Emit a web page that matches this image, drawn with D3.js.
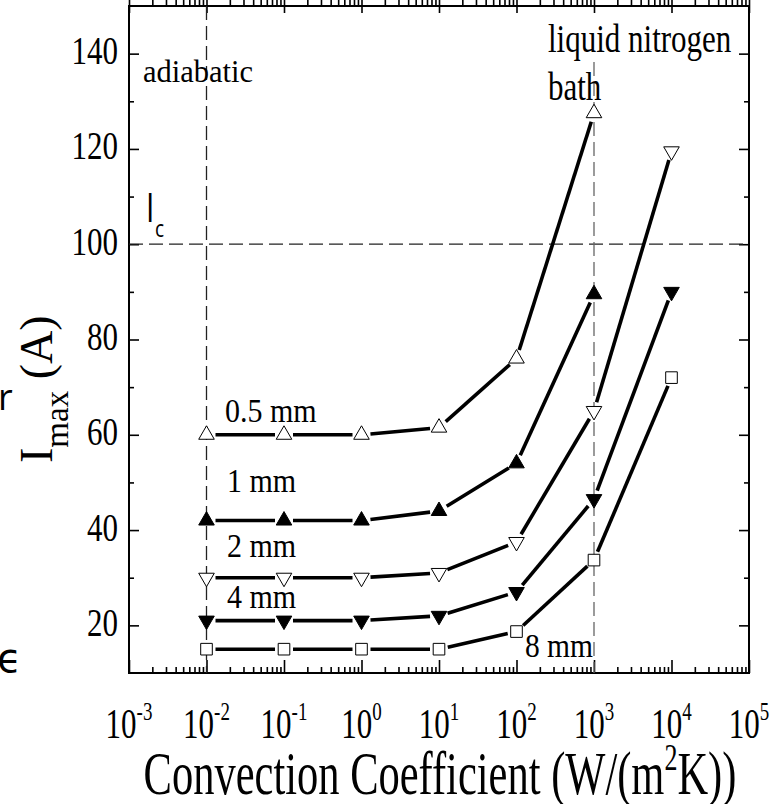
<!DOCTYPE html>
<html lang="en">
    <head>
        <title>Imax vs convection</title>
        <script src="https://d3js.org/d3.v7.min.js" charset="utf-8"></script>
    </head>
    <style>
        body { margin: 0; background: #fff; }
        text { font-family: "Liberation Serif", "Times New Roman", serif; fill: #000; }
        .sans { font-family: "Open Sans", "DejaVu Sans", sans-serif; }
    </style>
    <body>
        <script>
            // data
            var hValues = [1e-2, 1e-1, 1e0, 1e1, 1e2, 1e3, 1e4];
            var sizes = ["0.5 mm", "1 mm", "2 mm", "4 mm", "8 mm"];
            var imax05 = [60, 60, 60, 61.5, 76, 127.5];
            var imax1 = [42, 42, 42, 44, 54, 89.5];
            var imax2 = [30, 30, 30, 31, 37.5, 65, 119.5];
            var imax4 = [21, 21, 21, 22, 27, 46.5, 90];
            var imax8 = [15, 15, 15, 15, 18.7, 33.7, 72];
            var xExponents = [-3, -2, -1, 0, 1, 2, 3, 4, 5];
            var yTicks = [20, 40, 60, 80, 100, 120, 140];
            var yMinor = [30, 50, 70, 90, 110, 130];
            var criticalCurrent = 100;

            var width = 783, height = 804;
            var x = d3.scaleLog().domain([1e-3, 1e5]).range([129, 749]);
            var y = d3.scaleLinear().domain([10, 150]).range([673, 6]);

            var svg = d3.select("body").append("svg")
                .attr("width", width)
                .attr("height", height);

            var majors = xExponents.map(function(e) { return Math.pow(10, e); });
            var minors = [];
            xExponents.slice(0, -1).forEach(function(e) {
                for (var k = 2; k < 10; k++) minors.push(k * Math.pow(10, e));
            });

            function tickAxis(axis, tr) {
                var g = svg.append("g").attr("transform", tr).call(axis);
                g.select(".domain").remove();
                g.selectAll("line").attr("stroke", "#000").attr("stroke-width", 1.6);
                return g;
            }
            var bottom = "translate(0," + y.range()[0] + ")", top = "translate(0," + y.range()[1] + ")";
            var left = "translate(" + x.range()[0] + ",0)", right = "translate(" + x.range()[1] + ",0)";
            tickAxis(d3.axisBottom(x).tickValues(majors).tickSize(-13).tickFormat(""), bottom);
            tickAxis(d3.axisBottom(x).tickValues(minors).tickSize(-6).tickFormat(""), bottom);
            tickAxis(d3.axisTop(x).tickValues(majors).tickSize(-13).tickFormat(""), top);
            tickAxis(d3.axisTop(x).tickValues(minors).tickSize(-6).tickFormat(""), top);
            tickAxis(d3.axisLeft(y).tickValues(yTicks).tickSize(-10).tickFormat(""), left);
            tickAxis(d3.axisLeft(y).tickValues(yMinor).tickSize(-5).tickFormat(""), left);
            tickAxis(d3.axisRight(y).tickValues(yTicks).tickSize(-10).tickFormat(""), right);
            tickAxis(d3.axisRight(y).tickValues(yMinor).tickSize(-5).tickFormat(""), right);

            svg.append("rect")
                .attr("x", x.range()[0]).attr("y", y.range()[1])
                .attr("width", x.range()[1] - x.range()[0])
                .attr("height", y.range()[0] - y.range()[1])
                .attr("fill", "none").attr("stroke", "#000").attr("stroke-width", 2);

            // stretched text helper
            function stext(px, py, size, sy, anchor) {
                return svg.append("g")
                    .attr("transform", "translate(" + px + "," + py + ") scale(1," + sy + ")")
                  .append("text")
                    .attr("font-size", size)
                    .attr("text-anchor", anchor || "start");
            }

            yTicks.forEach(function(v) {
                stext(118, y(v) + 10.5, 31, 1.28, "end").text(v);
            });
            xExponents.forEach(function(e) {
                var t = stext(x(Math.pow(10, e)), 738, 31, 1.35, "middle");
                t.append("tspan").text("10");
                t.append("tspan").attr("font-size", 19).attr("dy", -13).text(e);
            });

            var xt = stext(440, 794, 42.5, 1.42, "middle");
            xt.append("tspan").text("Convection Coefficient (W/(m");
            xt.append("tspan").attr("font-size", 26).attr("dy", -17).text("2");
            xt.append("tspan").attr("dy", 17).text("K))");

            var yt = svg.append("text")
                .attr("transform", "translate(52,463) rotate(-90)")
                .attr("font-size", 46);
            yt.append("tspan").text("I");
            yt.append("tspan").attr("font-size", 33).attr("dy", 16).text("max");
            yt.append("tspan").attr("dy", -16).text(" (A)");

            // reference lines
            function dashed(x1, y1, x2, y2, col) {
                svg.append("line")
                    .attr("x1", x1).attr("y1", y1).attr("x2", x2).attr("y2", y2)
                    .attr("stroke", col).attr("stroke-width", 1.3)
                    .attr("stroke-dasharray", "14,6");
            }
            dashed(x.range()[0], y(criticalCurrent), x.range()[1], y(criticalCurrent), "#222");
            dashed(x(1e-2), y.range()[1], x(1e-2), y.range()[0], "#222");
            dashed(x(1e3), 62, x(1e3), y.range()[0], "#666");

            // curves
            var series = [
                { vals: imax05, shape: "up", fill: "#fff", label: sizes[0] },
                { vals: imax1, shape: "up", fill: "#000", label: sizes[1] },
                { vals: imax2, shape: "down", fill: "#fff", label: sizes[2] },
                { vals: imax4, shape: "down", fill: "#000", label: sizes[3] },
                { vals: imax8, shape: "square", fill: "#fff", label: sizes[4] }
            ];
            var gap = 9;
            series.forEach(function(s) {
                var pts = s.vals.map(function(v, i) { return [x(hValues[i]), y(v)]; });
                for (var i = 0; i < pts.length - 1; i++) {
                    var a = pts[i], b = pts[i + 1];
                    var dx = b[0] - a[0], dy = b[1] - a[1], len = Math.sqrt(dx * dx + dy * dy);
                    var ux = dx / len, uy = dy / len;
                    svg.append("line")
                        .attr("x1", a[0] + ux * gap).attr("y1", a[1] + uy * gap)
                        .attr("x2", b[0] - ux * gap).attr("y2", b[1] - uy * gap)
                        .attr("stroke", "#000").attr("stroke-width", 3.6);
                }
                var sym = s.shape === "square"
                    ? d3.symbol().type(d3.symbolSquare).size(135)
                    : d3.symbol().type(d3.symbolTriangle).size(105);
                svg.append("g").selectAll("path")
                    .data(pts)
                  .enter().append("path")
                    .attr("d", sym)
                    .attr("transform", function(p) {
                        return "translate(" + p[0] + "," + p[1] + ")" + (s.shape === "down" ? " rotate(180)" : "");
                    })
                    .attr("fill", s.fill)
                    .attr("stroke", "#000")
                    .attr("stroke-width", 1);
            });

            // annotations
            stext(225, 422, 30, 1.13).text(sizes[0]);
            stext(227, 492, 30, 1.13).text(sizes[1]);
            stext(227, 557, 30, 1.13).text(sizes[2]);
            stext(227, 608, 30, 1.13).text(sizes[3]);
            stext(525, 657, 29.5, 1.13).text(sizes[4]);
            stext(143, 82, 30.5, 1.05).text("adiabatic");
            stext(548, 52, 31, 1.26).text("liquid nitrogen");
            stext(548, 100, 31, 1.26).text("bath");
            stext(146, 222, 30, 1.35).attr("class", "sans").text("I");
            stext(155, 237, 19, 1.2).attr("class", "sans").text("c");

            // clipped letters from the neighbouring figure
            svg.append("text").attr("class", "sans").attr("x", -2).attr("y", 410).attr("font-size", 36).text("r");
            svg.append("text").attr("class", "sans").attr("x", -3).attr("y", 672).attr("font-size", 40).text("ϵ");
        </script>
    </body>
</html>
